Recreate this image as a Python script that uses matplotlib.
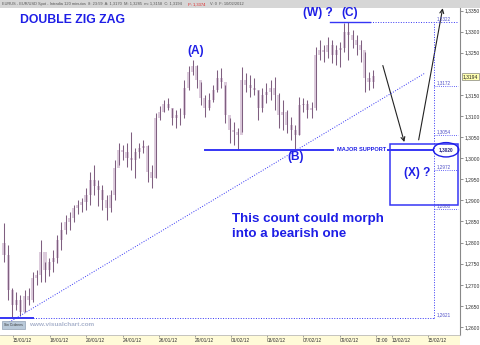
import matplotlib
matplotlib.use('Agg')
import matplotlib.pyplot as plt
from matplotlib.patches import Rectangle, Ellipse
import numpy as np

plt.rcParams['font.family'] = ['Liberation Sans', 'DejaVu Sans']

# EUR/USD 120-minute bars (high, low, close); each bar opens at the previous close
first_open = 1.2800
highs = [1.2847, 1.2795, 1.2693, 1.2683, 1.2676, 1.2688, 1.2693, 1.2731, 1.2736, 1.2807,
         1.2754, 1.2764, 1.2783, 1.2818, 1.2849, 1.2866, 1.2873, 1.2890, 1.2901, 1.2906,
         1.2930, 1.2968, 1.2984, 1.2949, 1.2937, 1.2913, 1.2925, 1.2996, 1.3037, 1.3032,
         1.3037, 1.3063, 1.3025, 1.3037, 1.3044, 1.3032, 1.2984, 1.3108, 1.3124, 1.3138,
         1.3143, 1.3119, 1.3115, 1.3119, 1.3186, 1.3219, 1.3233, 1.3221, 1.3181, 1.3150,
         1.3155, 1.3174, 1.3210, 1.3214, 1.3174, 1.3096, 1.3086, 1.3072, 1.3217, 1.3202,
         1.3198, 1.3191, 1.3162, 1.3167, 1.3179, 1.3186, 1.3193, 1.3155, 1.3138, 1.3115,
         1.3098, 1.3079, 1.3146, 1.3143, 1.3138, 1.3134, 1.3264, 1.3281, 1.3269, 1.3288,
         1.3281, 1.3269, 1.3276, 1.3321, 1.3322, 1.3304, 1.3292, 1.3281, 1.3252, 1.3205,
         1.3210]
lows = [1.2754, 1.2664, 1.2621, 1.2641, 1.2626, 1.2636, 1.2653, 1.2660, 1.2700, 1.2707,
        1.2707, 1.2721, 1.2731, 1.2752, 1.2783, 1.2821, 1.2830, 1.2849, 1.2868, 1.2873,
        1.2878, 1.2890, 1.2913, 1.2887, 1.2878, 1.2854, 1.2873, 1.2901, 1.2984, 1.2996,
        1.2980, 1.2972, 1.2954, 1.3001, 1.3013, 1.2944, 1.2930, 1.2954, 1.3091, 1.3110,
        1.3115, 1.3079, 1.3072, 1.3079, 1.3096, 1.3162, 1.3198, 1.3167, 1.3127, 1.3098,
        1.3115, 1.3134, 1.3157, 1.3167, 1.3084, 1.3037, 1.3032, 1.3020, 1.3063, 1.3157,
        1.3146, 1.3150, 1.3091, 1.3110, 1.3131, 1.3138, 1.3115, 1.3072, 1.3067, 1.3060,
        1.3044, 1.3020, 1.3055, 1.3110, 1.3096, 1.3096, 1.3115, 1.3233, 1.3228, 1.3238,
        1.3226, 1.3221, 1.3217, 1.3252, 1.3233, 1.3262, 1.3245, 1.3228, 1.3157, 1.3162,
        1.3167]
closes = [1.2771, 1.2688, 1.2653, 1.2664, 1.2636, 1.2674, 1.2664, 1.2717, 1.2724, 1.2778,
          1.2736, 1.2754, 1.2764, 1.2807, 1.2830, 1.2849, 1.2859, 1.2882, 1.2890, 1.2897,
          1.2913, 1.2949, 1.2935, 1.2925, 1.2901, 1.2882, 1.2913, 1.2977, 1.3020, 1.3015,
          1.3001, 1.2996, 1.3015, 1.3025, 1.3029, 1.2968, 1.2954, 1.3096, 1.3110, 1.3129,
          1.3119, 1.3096, 1.3103, 1.3103, 1.3167, 1.3205, 1.3219, 1.3186, 1.3143, 1.3119,
          1.3138, 1.3162, 1.3191, 1.3181, 1.3103, 1.3067, 1.3063, 1.3055, 1.3186, 1.3174,
          1.3167, 1.3162, 1.3119, 1.3150, 1.3157, 1.3167, 1.3150, 1.3103, 1.3110, 1.3079,
          1.3067, 1.3055, 1.3127, 1.3129, 1.3115, 1.3119, 1.3245, 1.3257, 1.3252, 1.3269,
          1.3245, 1.3257, 1.3262, 1.3300, 1.3292, 1.3281, 1.3269, 1.3257, 1.3191, 1.3181,
          1.3194]
opens = [first_open] + closes[:-1]

date_labels = ['15/01/12', '18/01/12', '20/01/12', '24/01/12', '26/01/12', '29/01/12',
               '01/02/12', '03/02/12', '07/02/12', '09/02/12', '02:00', '13/02/12', '15/02/12']
date_pos = [2.2, 11.2, 20.0, 29.0, 37.8, 46.6, 55.4, 64.1, 72.9, 81.9, 90.7, 94.6, 103.4]

# wave levels written on the right
level_values = [1.3322, 1.3172, 1.3054, 1.3020, 1.2972, 1.2880, 1.2621]
support = 1.3020
peak_c = 1.3322
low_start = 1.2621
last_price = 1.3194

blue = '#1e1ee6'
line_blue = '#3535f5'
dot = (0, (1, 1.6))

W, H = 480, 345
fig = plt.figure(figsize=(W / 100, H / 100), dpi=100)
fig.patch.set_facecolor('white')


def fpos(x, y):
    return x / W, 1 - y / H


ax = fig.add_axes([0, 10 / H, 460 / W, 327 / H])
ax.set_xlim(-0.98, 111.2)
ax.set_ylim(1.2581, 1.3356)

x = np.arange(len(closes))
ax.bar(x, np.array(closes) - np.array(opens), bottom=opens, width=0.75,
       color='#dccbdc', zorder=2)
ax.vlines(x, lows, highs, color='#7f5f80', lw=0.75, zorder=3)

# horizontal guides
x_vert = 104.9
ax.plot([49, 80.2], [support, support], color=line_blue, lw=1.4, zorder=4)
ax.plot([93.7, 104.6], [support, support], color=line_blue, lw=1.4, zorder=4)
ax.plot([79.5, 89.3], [peak_c, peak_c], color=line_blue, lw=1.0, zorder=4)
ax.plot([89.3, 110.7], [peak_c, peak_c], color=line_blue, lw=0.7, ls=dot, zorder=4)
ax.plot([-1, 7.1], [low_start, low_start], color=line_blue, lw=1.4, zorder=4)
ax.plot([7.1, x_vert], [low_start, low_start], color=line_blue, lw=0.7, ls=dot, zorder=4)
ax.plot([x_vert, x_vert], [low_start, peak_c], color=line_blue, lw=0.7, ls=dot, zorder=4)
for lv in level_values[1:-1]:
    if lv != support:
        ax.plot([x_vert, 110.7], [lv, lv], color=line_blue, lw=0.6, ls=dot, zorder=4)

# rising trend line
ax.plot([0.73, 102.7], [1.2608, 1.3202], color=line_blue, lw=0.7, ls=dot, zorder=4)

# (X) target box
ax.add_patch(Rectangle((94.1, 1.2890), 16.6, 0.0144, fill=False, ec=line_blue,
                       lw=1.1, zorder=5))
ax.add_patch(Ellipse((107.8, support), 6.2, 0.0034, fill=False, ec=blue,
                     lw=1.0, zorder=6))

for lv in level_values:
    txt = f'{lv:.4f}'.replace('.', ',')
    if lv == support:
        ax.text(107.8, lv, txt, fontsize=3.4, color='#202080', ha='center',
                va='center', weight='bold', zorder=7)
    else:
        ax.text(105.4, lv + 0.0002, txt, fontsize=3.3, color='#5050c8',
                va='bottom', zorder=7)

# projected path arrows
arrow = dict(arrowstyle='->', color='#222222', lw=0.8, mutation_scale=7)
ax.annotate('', xy=(97.8, 1.3032), xytext=(92.2, 1.3226), arrowprops=arrow)
ax.annotate('', xy=(107.1, 1.3362), xytext=(101.0, 1.3037), arrowprops=arrow,
            annotation_clip=False)

# wave labels
ax.text(46.8, highs[46] + 0.0007, '(A)', color=blue, fontsize=8.6, weight='bold',
        ha='center', va='bottom')
ax.text(84.4, highs[84] + 0.0008, '(C)', color=blue, fontsize=8.6, weight='bold',
        ha='center', va='bottom')
ax.text(76.6, highs[84] + 0.0008, '(W) ?', color=blue, fontsize=8.6, weight='bold',
        ha='center', va='bottom')
ax.text(71.0, lows[71] - 0.0004, '(B)', color=blue, fontsize=8.6, weight='bold',
        ha='center', va='top')
ax.text(81.2, support, 'MAJOR SUPPORT', color=blue, fontsize=4.1, weight='bold',
        va='center')
ax.text(100.7, 1.2965, '(X) ?', color=blue, fontsize=8.6, weight='bold',
        ha='center', va='center')
ax.text(55.6, 1.2871, 'This count could morph\ninto a bearish one', color=blue,
        fontsize=9.6, weight='bold', va='top', linespacing=1.4)
fig.text(*fpos(20, 20), 'DOUBLE ZIG ZAG', color=blue, fontsize=8.8, weight='bold',
         va='center')

# axes styling
for s in ['top', 'left']:
    ax.spines[s].set_visible(False)
ax.spines['right'].set_color('#888888')
ax.spines['bottom'].set_color('#bbbbbb')
ax.spines['right'].set_linewidth(0.8)
ax.spines['bottom'].set_linewidth(0.6)

yt = [v for v in np.arange(1.2600, 1.33501, 0.005) if abs(v - 1.32) > 1e-6]
ax.yaxis.tick_right()
ax.set_yticks(yt)
ax.set_yticklabels([f'{v:.4f}'.replace('.', ',') for v in yt])
ax.tick_params(axis='y', length=2, width=0.5, color='#666666', pad=1,
               labelsize=3.6, labelcolor='#333333')
ax.text(1.006, last_price, '1,3194', transform=ax.get_yaxis_transform(),
        fontsize=3.6, color='#222222', va='center', clip_on=False,
        bbox=dict(boxstyle='square,pad=0.25', fc='#ffffb0', ec='#666666', lw=0.4))

ax.set_xticks(date_pos)
ax.set_xticklabels(date_labels, ha='left')
ax.tick_params(axis='x', length=1.5, width=0.5, color='#777777', pad=1,
               labelsize=3.5, labelcolor='#333333')

# header and footer strips
fig.patches.append(Rectangle((0, 1 - 8 / H), 1, 8 / H, transform=fig.transFigure,
                             fc='#d6d6d6', ec='none', zorder=-1))
fig.patches.append(Rectangle((0, 0), 460 / W, 10 / H, transform=fig.transFigure,
                             fc='#fffbd8', ec='none', zorder=-1))
fig.text(*fpos(2, 4.2), 'EURUS - EUR/USD Spot - Intradia 120 minutos  8: 23:59  '
         'A: 1,3170  M: 1,3285  m: 1,3158  C: 1,3194', fontsize=2.9,
         color='#555555', va='center')
fig.text(*fpos(188, 4.2), 'P: 1,3374', fontsize=2.9, color='#e02020', va='center')
fig.text(*fpos(210, 4.2), 'V: 0  F: 10/02/2012', fontsize=2.9, color='#555555',
         va='center')

fig.text(*fpos(29, 325), 'www.visualchart.com', color='#a9b3cc', fontsize=4.6,
         weight='bold', va='center')
fig.text(*fpos(4, 325), 'Sin Ordenes', color='#333333', fontsize=2.4, va='center',
         bbox=dict(boxstyle='square,pad=0.5', fc='#b9c9d9', ec='#7f8fa5', lw=0.4))

fig.savefig('out.png', dpi=100)
